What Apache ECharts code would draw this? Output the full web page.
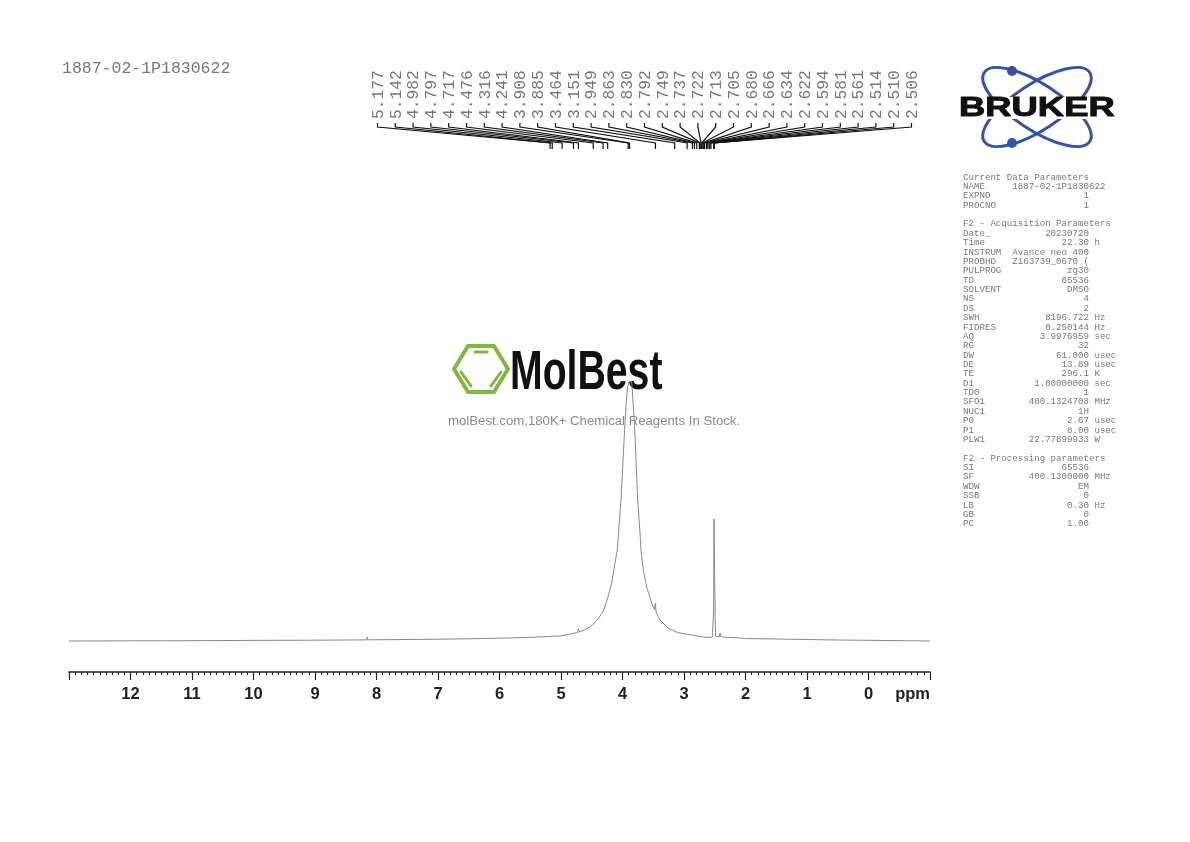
<!DOCTYPE html>
<html>
<head>
<meta charset="utf-8">
<title>1887-02-1P1830622</title>
<style>
	html, body { margin: 0; padding: 0; background: #fff; }
	#main { width: 1190px; height: 842px; }
</style>
<script src="https://cdn.jsdelivr.net/npm/echarts@6/dist/echarts.min.js"></script>
</head>
<body>
<div id="main"></div>
<script>
// spectrum
var specPpm = [13, 11, 10, 9, 8.2, 8.16, 8.15, 8.14, 8.1, 7.5, 7, 6.5, 6, 5.5, 5.2, 5.016, 4.85, 4.73, 4.717, 4.705, 4.61, 4.528, 4.42, 4.317, 4.236, 4.176, 4.122, 4.085, 4.024, 3.992, 3.97, 3.943, 3.919, 3.9, 3.85, 3.83, 3.805, 3.789, 3.753, 3.715, 3.7, 3.662, 3.607, 3.525, 3.48, 3.467, 3.464, 3.455, 3.39, 3.26, 3.098, 2.875, 2.659, 2.54, 2.525, 2.518, 2.513, 2.499, 2.494, 2.487, 2.47, 2.43, 2.415, 2.4, 2.36, 2.09, 2, 1.5, 1, 0.5, 0, -1];
var specInt = [0, 0.3, 0.6, 0.8, 1.1, 1.2, 4, 1.2, 1.2, 1.5, 1.8, 2.2, 2.8, 3.6, 4.5, 5, 7, 8.5, 12.5, 9, 11.5, 14, 20.3, 29, 44, 58, 78, 91, 141, 180, 206, 236, 253, 259, 259, 240, 215, 195, 141, 108, 91, 71, 54, 38, 31, 30, 38, 29, 21, 13, 8.3, 6, 3.7, 3.7, 4, 30, 122, 124, 30, 5, 4, 4, 8, 4.5, 4, 3, 2.5, 2, 1.5, 1, 0.7, 0];

// picked peaks
var peakLabels = ['5.177', '5.142', '4.982', '4.797', '4.717', '4.476', '4.316', '4.241', '3.908', '3.885', '3.464', '3.151', '2.949', '2.863', '2.830', '2.792', '2.749', '2.737', '2.722', '2.713', '2.705', '2.680', '2.666', '2.634', '2.622', '2.594', '2.581', '2.561', '2.514', '2.510', '2.506'];
var peakPpm = peakLabels.map(function(item) {
	return parseFloat(item);
});

// text block on the right, [name, value, unit]
var currentParams = [['EXPNO', '1'], ['PROCNO', '1']];
var acquParams = [['Date_', '20230720'], ['Time', '22.30', 'h'], ['INSTRUM', 'Avance neo 400'], ['PROBHD', 'Z163739_0670 ('], ['PULPROG', 'zg30'], ['TD', '65536'], ['SOLVENT', 'DMSO'], ['NS', '4'], ['DS', '2'], ['SWH', '8196.722', 'Hz'], ['FIDRES', '0.250144', 'Hz'], ['AQ', '3.9976959', 'sec'], ['RG', '32'], ['DW', '61.000', 'usec'], ['DE', '13.89', 'usec'], ['TE', '296.1', 'K'], ['D1', '1.00000000', 'sec'], ['TD0', '1'], ['SFO1', '400.1324708', 'MHz'], ['NUC1', '1H'], ['P0', '2.67', 'usec'], ['P1', '8.00', 'usec'], ['PLW1', '22.77899933', 'W']];
var procParams = [['SI', '65536'], ['SF', '400.1300000', 'MHz'], ['WDW', 'EM'], ['SSB', '0'], ['LB', '0.30', 'Hz'], ['GB', '0'], ['PC', '1.00']];

var MONO = '"Liberation Mono", monospace';
var SANS = '"Liberation Sans", Arial, sans-serif';

function paramRow(item) {
	var line = item[0];
	while (line.length + item[1].length < 23) line += ' ';
	line += item[1];
	if (item[2]) line += ' ' + item[2];
	return line;
}

var paramLines = ['Current Data Parameters', 'NAME     1887-02-1P1830622']
	.concat(currentParams.map(paramRow), [''], ['F2 - Acquisition Parameters'])
	.concat(acquParams.map(paramRow), [''], ['F2 - Processing parameters'])
	.concat(procParams.map(paramRow));

// labels sit evenly spaced, each leader runs down to its peak on the ppm axis
function renderPeak(params, api) {
	var i = params.dataIndex;
	var slotX = 377.5 + i * 17.8;
	var peakX = api.coord([api.value(0), 0])[0];
	return {
		type: 'group',
		children: [{
			type: 'polyline',
			shape: { points: [[slotX, 123], [slotX, 127], [peakX, 143], [peakX, 149]] },
			style: { fill: null, stroke: '#111', lineWidth: 1.2 }
		}, {
			type: 'text',
			x: slotX + 1,
			y: 119,
			rotation: Math.PI / 2,
			style: {
				text: peakLabels[i],
				font: '16.3px ' + MONO,
				fill: '#777',
				align: 'left',
				verticalAlign: 'middle'
			}
		}]
	};
}

var myChart = echarts.init(document.getElementById('main'), null, { renderer: 'canvas' });

var option = {
	backgroundColor: '#fff',
	animation: false,
	title: {
		text: '1887-02-1P1830622',
		left: 62,
		top: 60,
		padding: 0,
		textStyle: { fontFamily: MONO, fontWeight: 'normal', fontSize: 16.5, color: '#777' }
	},
	grid: { left: 69, right: 260, top: 60, bottom: 170 },
	xAxis: {
		type: 'value',
		inverse: true,
		min: -1,
		max: 13,
		interval: 1,
		splitLine: { show: false },
		axisLine: { onZero: false, lineStyle: { color: '#222', width: 1.5 } },
		axisTick: { length: 8, lineStyle: { color: '#222', width: 1.2 } },
		minorTick: { show: true, splitNumber: 10, length: 3, lineStyle: { color: '#222', width: 1 } },
		axisLabel: {
			margin: 14,
			fontFamily: SANS,
			fontWeight: 'bold',
			fontSize: 16.5,
			color: '#222',
			showMinLabel: false,
			showMaxLabel: false
		}
	},
	yAxis: {
		type: 'value',
		show: false,
		min: -31,
		max: 581,
		splitLine: { show: false }
	},
	series: [{
		type: 'line',
		z: 5,
		symbol: 'none',
		silent: true,
		lineStyle: { color: '#888', width: 1 },
		data: specPpm.map(function(item, i) {
			return [item, specInt[i]];
		})
	}, {
		type: 'custom',
		silent: true,
		clip: false,
		renderItem: renderPeak,
		encode: { x: 0 },
		data: peakPpm.map(function(item) {
			return [item];
		})
	}],
	graphic: [
		{ type: 'text', z: 3, x: 930, y: 694, style: { text: 'ppm', font: 'bold 16.5px ' + SANS, fill: '#222', align: 'right', verticalAlign: 'middle' } },
		// parameter block
		{ type: 'text', x: 963, y: 172.5, style: { text: paramLines.join('\n'), font: '9.13px ' + MONO, lineHeight: 9.37, fill: '#777' } },
		// Bruker logo
		{ type: 'ellipse', x: 1037, y: 107, rotation: -0.58, shape: { cx: 0, cy: 0, rx: 63, ry: 23 }, style: { fill: null, stroke: '#3553a4', lineWidth: 3 } },
		{ type: 'ellipse', x: 1037, y: 107, rotation: 0.58, shape: { cx: 0, cy: 0, rx: 63, ry: 23 }, style: { fill: null, stroke: '#3553a4', lineWidth: 3 } },
		{ type: 'circle', shape: { cx: 1012, cy: 71, r: 5 }, style: { fill: '#3553a4' } },
		{ type: 'circle', shape: { cx: 1012, cy: 143, r: 5 }, style: { fill: '#3553a4' } },
		{ type: 'rect', shape: { x: 957, y: 97, width: 160, height: 22 }, style: { fill: '#fff' } },
		{ type: 'text', x: 959, y: 108, scaleX: 1.3, style: { text: 'BRUKER', font: 'bold 28px ' + SANS, fill: '#111', stroke: '#111', lineWidth: 1, align: 'left', verticalAlign: 'middle' } },
		// MolBest logo
		{ type: 'polygon', shape: { points: [[454, 369], [468, 346], [494, 346], [508, 369], [494, 392], [468, 392]] }, style: { fill: null, stroke: '#7cb93e', lineWidth: 4, lineJoin: 'round' } },
		{ type: 'line', shape: { x1: 475, y1: 352, x2: 487, y2: 352 }, style: { stroke: '#7cb93e', lineWidth: 3, lineCap: 'round' } },
		{ type: 'line', shape: { x1: 461, y1: 372, x2: 471, y2: 386 }, style: { stroke: '#7cb93e', lineWidth: 3, lineCap: 'round' } },
		{ type: 'line', shape: { x1: 491, y1: 386, x2: 501, y2: 372 }, style: { stroke: '#7cb93e', lineWidth: 3, lineCap: 'round' } },
		{ type: 'text', x: 510, y: 374, scaleX: 0.7, style: { text: 'MolBest', font: 'bold 56px ' + SANS, fill: '#111', align: 'left', verticalAlign: 'middle' } },
		{ type: 'text', x: 448, y: 421, style: { text: 'molBest.com,180K+ Chemical Reagents In Stock.', font: '13.2px ' + SANS, fill: '#888', align: 'left', verticalAlign: 'middle' } }
	]
};
// 使用刚指定的配置项和数据显示图表。
myChart.setOption(option);
</script>
</body>
</html>
